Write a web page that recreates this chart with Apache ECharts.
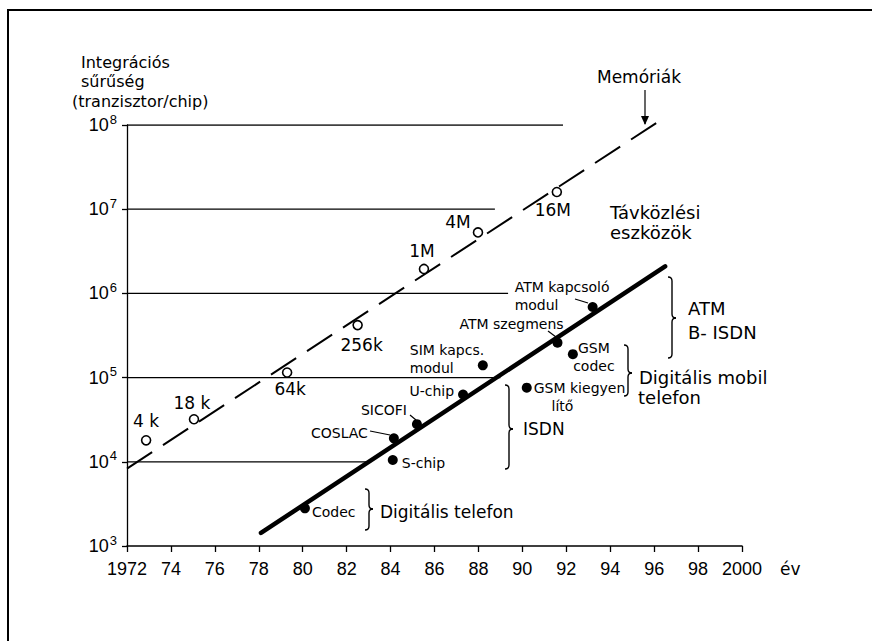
<!DOCTYPE html>
<html>
<head>
<meta charset="utf-8">
<script src="https://cdn.jsdelivr.net/npm/echarts@6/dist/echarts.min.js"></script>
<style>
  html, body { margin: 0; padding: 0; background: #fff; }
  #chart { width: 872px; height: 641px; }
</style>
</head>
<body>
<div id="chart"></div>
<script>
// tick labels
const xTickLabels = ['1972', '74', '76', '78', '80', '82', '84', '86', '88', '90', '92', '94', '96', '98', '2000'];
const yTickExps = ['3', '4', '5', '6', '7', '8'];

// memory chips (open circles)
const memNames = ['4 k', '18 k', '64k', '256k', '1M', '4M', '16M'];
const memYears = [1972.87, 1975.05, 1979.29, 1982.5, 1985.52, 1987.98, 1991.57];
const memValues = [1.8e4, 3.2e4, 1.15e5, 4.2e5, 1.95e6, 5.3e6, 1.6e7];

// telecom chips (filled dots)
const telNames = ['Codec', 'S-chip', 'COSLAC', 'SICOFI', 'U-chip', 'SIM kapcs.\nmodul',
  'GSM kiegyen\n    lítő', 'ATM szegmens', 'GSM\ncodec', 'ATM kapcsoló\nmodul'];
const telYears = [1980.1, 1984.1, 1984.15, 1985.2, 1987.3, 1988.2, 1990.2, 1991.6, 1992.3, 1993.2];
const telValues = [2.8e3, 1.05e4, 1.9e4, 2.8e4, 6.3e4, 1.4e5, 7.6e4, 2.6e5, 1.9e5, 6.9e5];

// trend lines
const memTrendYears = [1972, 1996.2];
const memTrendValues = [8.3e3, 1.1e8];
const telTrendYears = [1978.1, 1996.5];
const telTrendValues = [1.43e3, 2.1e6];

// partial horizontal guide lines at each decade
const guideValues = [1e4, 1e5, 1e6, 1e7, 1e8];
const guideEndYears = [1983.0, 1989.0, 1989.35, 1988.75, 1991.85];

// label placement (style only)
const memLabelOffsets = [[0, -19], [-2, -16], [3, 17], [4, 20], [-2, -18], [-20, -10], [-4, 18]];
const telLabelLayout = [
  ['left', 7, 4], ['left', 9, 3], ['right', -26, -5], ['right', -10, -14], ['right', -9, -3],
  ['left', -73, -6], ['left', 7, 9], ['left', -98, -19], ['center', 21, 3], ['left', -78, -11]
];

const FONT = 'DejaVu Sans';
const chart = echarts.init(document.getElementById('chart'), null, { renderer: 'svg' });

function curve(x1, y1, cx, cy, x2, y2) {
  return {
    type: 'bezierCurve', silent: true,
    shape: { x1, y1, x2, y2, cpx1: cx, cpy1: cy },
    style: { stroke: '#000', lineWidth: 1.4, fill: null }
  };
}

function seg(x1, y1, x2, y2, w) {
  return { type: 'line', silent: true, shape: { x1, y1, x2, y2 }, style: { stroke: '#000', lineWidth: w || 1.2 } };
}

// curly brace pointing right: top y1, bottom y2, tip at ym
function brace(x, y1, y2, ym) {
  const w = 4;
  return [
    curve(x, y1, x + w, y1, x + w, y1 + w),
    seg(x + w, y1 + w, x + w, ym - w, 1.4),
    curve(x + w, ym - w, x + w, ym, x + 2 * w, ym),
    curve(x + 2 * w, ym, x + w, ym, x + w, ym + w),
    seg(x + w, ym + w, x + w, y2 - w, 1.4),
    curve(x + w, y2 - w, x + w, y2, x, y2)
  ];
}

function txt(text, x, y, size, align) {
  return {
    type: 'text', x, y, silent: true,
    style: { text, fontSize: size, fontFamily: FONT, fill: '#000', align: align || 'left', verticalAlign: 'middle' }
  };
}

const guideSeries = guideValues.map((v, i) => ({
  type: 'line',
  data: [[1972, v], [guideEndYears[i], v]],
  symbol: 'none',
  silent: true,
  lineStyle: { color: '#000', width: 1.3 },
  z: 1
}));

const option = {
  animation: false,
  backgroundColor: '#fff',
  grid: { left: 127, right: 130, top: 125, bottom: 95 },
  xAxis: {
    type: 'value',
    min: 1972, max: 2000, interval: 2,
    name: 'év',
    nameLocation: 'end',
    nameGap: 38,
    nameTextStyle: { fontFamily: FONT, fontSize: 17, color: '#000', verticalAlign: 'top', padding: [14, 0, 0, 0] },
    axisLine: { lineStyle: { color: '#000', width: 1.5 } },
    axisTick: { inside: false, length: 6, lineStyle: { color: '#000', width: 1.3 } },
    axisLabel: {
      margin: 14, color: '#000', fontFamily: 'Liberation Sans', fontSize: 18,
      formatter: (v) => xTickLabels[Math.round((v - 1972) / 2)] || ''
    },
    splitLine: { show: false }
  },
  yAxis: {
    type: 'log', logBase: 10, min: 1e3, max: 1e8,
    axisLine: { show: true, lineStyle: { color: '#000', width: 1.3 } },
    axisTick: { show: true, length: 5, lineStyle: { color: '#000', width: 1.3 } },
    minorTick: { show: false },
    splitLine: { show: false },
    axisLabel: {
      margin: 10, color: '#000', fontFamily: 'Liberation Sans', fontSize: 18,
      formatter: (v) => {
        const i = Math.round(Math.log10(v)) - 3;
        return '10{s|' + yTickExps[i] + '}';
      },
      rich: { s: { fontSize: 13, fontFamily: 'Liberation Sans', color: '#000', verticalAlign: 'bottom', padding: [0, 0, 12, 1] } }
    }
  },
  series: [
    ...guideSeries,
    {
      type: 'line',
      data: memTrendYears.map((y, i) => [y, memTrendValues[i]]),
      symbol: 'none', silent: true, clip: false,
      lineStyle: { color: '#000', width: 2, type: [30, 13] },
      z: 2
    },
    {
      type: 'line',
      data: telTrendYears.map((y, i) => [y, telTrendValues[i]]),
      symbol: 'none', silent: true,
      lineStyle: { color: '#000', width: 4.5, cap: 'round' },
      z: 2
    },
    {
      type: 'scatter',
      symbol: 'circle', symbolSize: 9,
      itemStyle: { color: '#fff', borderColor: '#000', borderWidth: 1.6, opacity: 1 },
      data: memYears.map((y, i) => ({
        value: [y, memValues[i]],
        name: memNames[i],
        label: {
          show: true, position: 'inside', formatter: memNames[i],
          offset: memLabelOffsets[i], align: 'center', verticalAlign: 'middle',
          fontFamily: FONT, fontSize: 17, color: '#000', textBorderWidth: 0
        }
      })),
      z: 5
    },
    {
      type: 'scatter',
      symbol: 'circle', symbolSize: 10,
      itemStyle: { color: '#000', opacity: 1 },
      data: telYears.map((y, i) => ({
        value: [y, telValues[i]],
        name: telNames[i],
        label: {
          show: true, position: 'inside', formatter: telNames[i],
          align: telLabelLayout[i][0], offset: [telLabelLayout[i][1], telLabelLayout[i][2]],
          verticalAlign: 'middle', lineHeight: 18,
          fontFamily: FONT, fontSize: 14, color: '#000', textBorderWidth: 0
        }
      })),
      z: 5
    }
  ],
  graphic: [
    // frame
    seg(7, 10, 872, 10, 2),
    seg(8, 10, 8, 641, 2),
    // axis title
    txt('Integrációs', 81, 62, 16),
    txt('sűrűség', 81, 81, 16),
    txt('(tranzisztor/chip)', 72, 101, 16),
    // memory annotation and arrow
    txt('Memóriák', 639, 77, 17, 'center'),
    seg(645, 90, 645, 124, 1.2),
    { type: 'polygon', silent: true, shape: { points: [[641, 116], [649, 116], [645, 125]] }, style: { fill: '#000' } },
    txt('Távközlési', 610, 212, 18),
    txt('eszközök', 610, 232, 18),
    // leader lines
    seg(370, 431, 390, 435),
    seg(410, 415, 416, 420),
    seg(548, 331, 556, 337),
    seg(575, 299, 588, 303),
    // braces and their group names
    ...brace(365, 489, 530, 509),
    txt('Digitális telefon', 380, 512, 17),
    ...brace(505, 385, 469, 429),
    txt('ISDN', 523, 429, 17),
    ...brace(668, 277, 358, 318),
    txt('ATM', 688, 308, 18),
    txt('B- ISDN', 688, 332, 18),
    ...brace(624, 345, 396, 373),
    txt('Digitális mobil', 639, 377, 18),
    txt('telefon', 638, 397, 18)
  ]
};

chart.setOption(option);
</script>
</body>
</html>
